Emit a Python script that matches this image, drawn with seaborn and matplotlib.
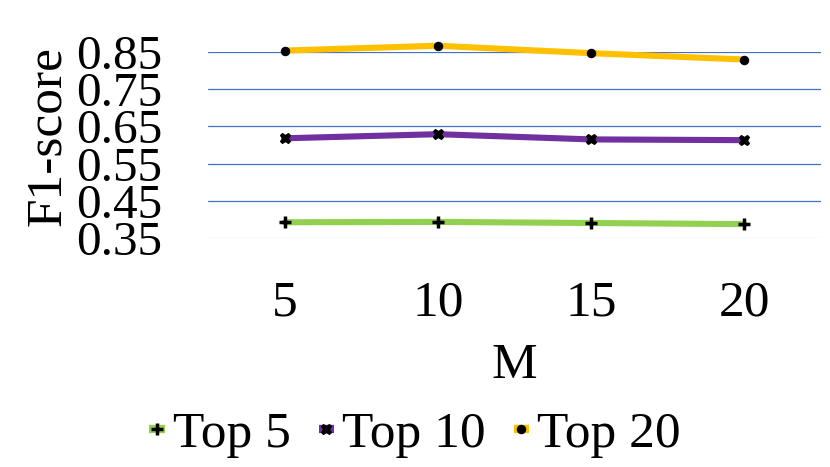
import matplotlib
matplotlib.use("Agg")
import matplotlib.pyplot as plt
import seaborn as sns
import pandas as pd

# ---- data ----
m_values = [5, 10, 15, 20]
top5 = [0.393, 0.394, 0.391, 0.388]
top10 = [0.618, 0.629, 0.615, 0.613]
top20 = [0.853, 0.866, 0.846, 0.829]
series_names = ["Top 5", "Top 10", "Top 20"]
y_ticks = [0.35, 0.45, 0.55, 0.65, 0.75, 0.85]
y_tick_labels = ["0.35", "0.45", "0.55", "0.65", "0.75", "0.85"]
x_tick_labels = ["5", "10", "15", "20"]

colors = {"Top 5": "#92D050", "Top 10": "#7030A0", "Top 20": "#FFC000"}
markers = {"Top 5": "+", "Top 10": "X", "Top 20": "o"}
msizes = {"Top 5": 8, "Top 10": 7.5, "Top 20": 6}
mews = {"Top 5": 2.5, "Top 10": 0.8, "Top 20": 0.8}

rows = []
for name, vals in zip(series_names, [top5, top10, top20]):
    for m, v in zip(m_values, vals):
        rows.append({"M": m, "F1": v, "series": name})
df = pd.DataFrame(rows)

sns.set_style("white")
plt.rcParams["font.family"] = ["Liberation Serif", "DejaVu Serif"]
plt.rcParams["text.color"] = "black"
plt.rcParams["axes.labelcolor"] = "black"
plt.rcParams["xtick.color"] = "black"
plt.rcParams["ytick.color"] = "black"

fig = plt.figure(figsize=(8.3, 4.67), dpi=100)
ax = fig.add_axes([0.2506, 0.4897, 0.7386, 0.3996])

for name in series_names:
    sub = df[df["series"] == name]
    sns.lineplot(data=sub, x="M", y="F1", ax=ax, color=colors[name],
                 linewidth=4.4, marker=markers[name], markersize=msizes[name],
                 markerfacecolor="black", markeredgecolor="black",
                 markeredgewidth=mews[name], label=name, clip_on=False,
                 zorder=3)

ax.set_xlim(2.5, 22.5)
ax.set_ylim(0.35, 0.85)
ax.set_xticks(m_values)
ax.set_xticklabels(x_tick_labels)
ax.set_yticks(y_ticks)
ax.set_yticklabels(y_tick_labels)
ax.tick_params(axis="x", length=0, pad=30, labelsize=37, labelcolor="black")
ax.tick_params(axis="y", length=0, pad=33, labelsize=35.5, labelcolor="black")

ax.yaxis.grid(True, color="#4472C4", linewidth=0.9)
ax.xaxis.grid(False)
ax.set_axisbelow(True)
gl = ax.yaxis.get_gridlines()
gl[0].set_color("#D9D9D9")
for sp in ax.spines.values():
    sp.set_visible(False)

ax.set_xlabel("M", fontsize=37, color="black")
ax.set_ylabel("F1-score", fontsize=37, color="black")
ax.xaxis.set_label_coords(0.5, -0.556)
ax.yaxis.set_label_coords(-0.2235, 0.549)

leg = ax.legend(loc="center", bbox_to_anchor=(0.5, 0.0696),
                bbox_transform=fig.transFigure, ncol=3, frameon=False,
                fontsize=37, handlelength=0.3, handletextpad=0.15,
                columnspacing=0.55, borderaxespad=0, borderpad=0,
                labelcolor="black")
for h in leg.legend_handles:
    h.set_linewidth(6)
    h.set_solid_capstyle("butt")

fig.savefig("out.png", dpi=100)
